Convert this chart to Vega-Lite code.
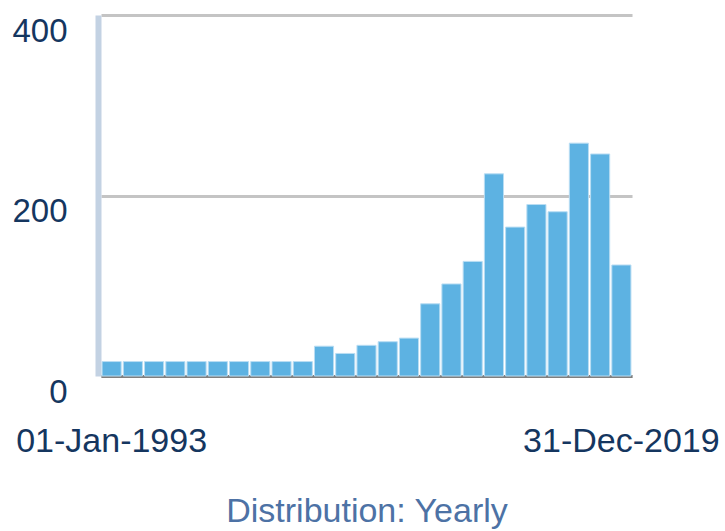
{
  "$schema": "https://vega.github.io/schema/vega-lite/v6.json",
  "autosize": "none",
  "width": 531,
  "height": 361,
  "padding": {"left": 101, "top": 15, "right": 93, "bottom": 155},
  "background": "white",
  "config": {
    "view": {"stroke": null},
    "font": "Liberation Sans"
  },
  "data": {
    "values": [
      {"bin": 1, "count": 16}, {"bin": 2, "count": 16}, {"bin": 3, "count": 16},
      {"bin": 4, "count": 16}, {"bin": 5, "count": 16}, {"bin": 6, "count": 16},
      {"bin": 7, "count": 16}, {"bin": 8, "count": 16}, {"bin": 9, "count": 16},
      {"bin": 10, "count": 16}, {"bin": 11, "count": 33}, {"bin": 12, "count": 25},
      {"bin": 13, "count": 34}, {"bin": 14, "count": 38}, {"bin": 15, "count": 42},
      {"bin": 16, "count": 80}, {"bin": 17, "count": 102}, {"bin": 18, "count": 127},
      {"bin": 19, "count": 224}, {"bin": 20, "count": 165}, {"bin": 21, "count": 190},
      {"bin": 22, "count": 182}, {"bin": 23, "count": 258}, {"bin": 24, "count": 246},
      {"bin": 25, "count": 123}
    ]
  },
  "mark": {"type": "bar", "color": "#5DB2E2", "stroke": "#b9ddf3", "strokeWidth": 1},
  "encoding": {
    "x": {
      "field": "bin",
      "type": "ordinal",
      "sort": null,
      "scale": {"paddingInner": 0.1, "paddingOuter": 0.05},
      "axis": {
        "values": [1, 25],
        "labelExpr": "datum.value == 1 ? '01-Jan-1993' : '31-Dec-2019'",
        "labelAngle": 0,
        "labelAlign": "center",
        "labelBaseline": "top",
        "labelFontSize": 34,
        "labelLimit": 0,
        "labelOverlap": false,
        "labelColor": "#15365f",
        "labelPadding": 48,
        "ticks": false,
        "domain": true,
        "domainColor": "#7f7f7f",
        "domainWidth": 3,
        "grid": false,
        "title": "Distribution: Yearly",
        "titleFontSize": 34,
        "titleFontWeight": "normal",
        "titleColor": "#4d72a5",
        "titlePadding": 36
      }
    },
    "y": {
      "field": "count",
      "type": "quantitative",
      "scale": {"domain": [0, 400]},
      "axis": {
        "values": [0, 200, 400],
        "title": null,
        "grid": true,
        "gridColor": "#c4c4c4",
        "gridWidth": 3,
        "domain": true,
        "domainColor": "#c3d2e3",
        "domainWidth": 6,
        "offset": 3,
        "ticks": false,
        "labelFontSize": 33,
        "labelColor": "#15365f",
        "labelBaseline": "top",
        "labelPadding": 31
      }
    }
  }
}
